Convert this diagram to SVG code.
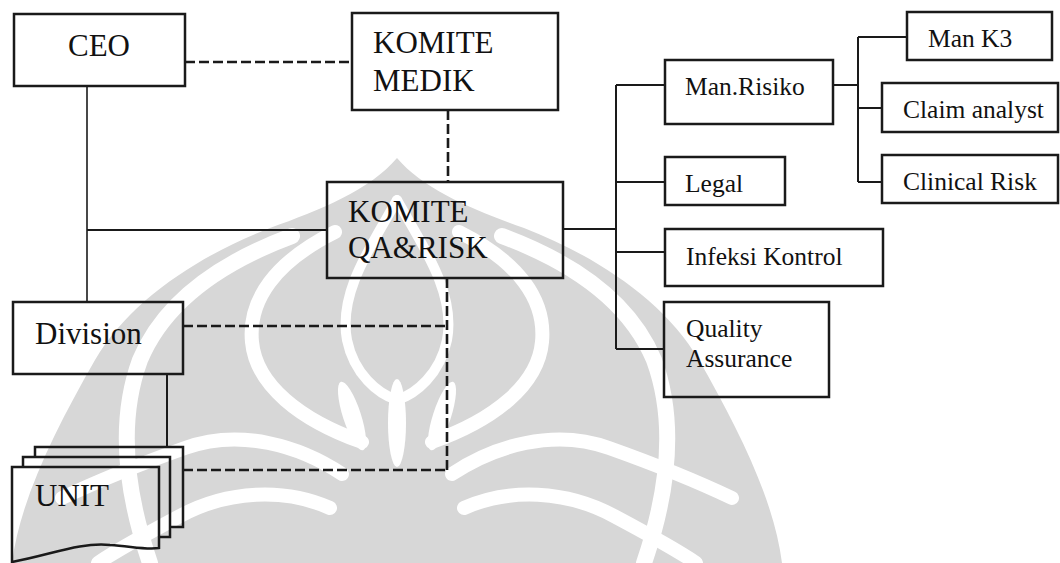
<svg xmlns="http://www.w3.org/2000/svg" xmlns:xlink="http://www.w3.org/1999/xlink" width="1060" height="563" viewBox="0 0 1060 563">
  <style>
    .box { fill: none; stroke: #1a1a1a; stroke-width: 2.5; }
    .sheet { fill: none; stroke: #1a1a1a; stroke-width: 2.5; }
    .line { fill: none; stroke: #1a1a1a; stroke-width: 2; }
    .thin { fill: none; stroke: #1a1a1a; stroke-width: 1.6; }
    .dash { fill: none; stroke: #1a1a1a; stroke-width: 2.6; stroke-dasharray: 10 4; }
    .big { font-family: "Liberation Serif", "Times New Roman", serif; font-size: 31px; fill: #111; }
    .small { font-family: "Liberation Serif", "Times New Roman", serif; font-size: 25.5px; fill: #111; }
    .wm { fill: #d7d7d7; }
    .wm-cut { fill: none; stroke: #fff; stroke-linecap: round; }
  </style>

  <rect width="1060" height="563" fill="#fff"/>

  <!-- background emblem -->
  <g id="emblem">
    <path class="wm" d="M397,158 C424,190 474,210 524,228 C594,255 664,300 699,360 C739,430 774,500 782,563 L12,563 C20,500 55,430 95,360 C130,300 200,255 270,228 C320,210 370,190 397,158 Z"/>
    <g id="emblem-half">
      <path class="wm-cut" stroke-width="16" d="M292,236 C222,262 165,300 140,360 C118,420 125,490 150,563"/>
      <path class="wm-cut" stroke-width="14" d="M335,232 C275,262 248,300 252,342 C256,385 300,420 362,442"/>
      <path class="wm-cut" stroke-width="10" d="M397,200 C372,245 338,292 347,340 C354,374 378,394 397,400"/>
      <ellipse cx="352" cy="416" rx="9" ry="36" fill="#fff" transform="rotate(-18 352 416)"/>
      <path class="wm-cut" stroke-width="14" d="M342,474 C300,446 240,428 185,448 C140,464 100,480 62,498"/>
      <path class="wm-cut" stroke-width="14" d="M330,508 C285,488 228,490 180,516 C150,532 120,548 98,563"/>
    </g>
    <use xlink:href="#emblem-half" transform="translate(794,0) scale(-1,1)"/>
    <ellipse cx="397" cy="423" rx="9" ry="44" fill="#fff"/>
  </g>

  <!-- connectors -->
  <g id="connectors">
    <line class="thin" x1="87" y1="86" x2="87" y2="302"/>
    <line class="line" x1="87" y1="230" x2="327" y2="230"/>
    <line class="line" x1="167" y1="374" x2="167" y2="447"/>
    <line class="dash" x1="185" y1="62" x2="352" y2="62"/>
    <line class="dash" x1="448" y1="110" x2="448" y2="182"/>
    <line class="dash" x1="447" y1="278" x2="447" y2="470"/>
    <line class="dash" x1="183" y1="326" x2="447" y2="326"/>
    <line class="dash" x1="183" y1="470" x2="447" y2="470"/>
    <line class="line" x1="563" y1="229" x2="616" y2="229"/>
    <line class="line" x1="616" y1="85" x2="616" y2="349"/>
    <line class="line" x1="616" y1="85" x2="665" y2="85"/>
    <line class="line" x1="616" y1="182" x2="665" y2="182"/>
    <line class="line" x1="616" y1="252" x2="665" y2="252"/>
    <line class="line" x1="616" y1="349" x2="664" y2="349"/>
    <line class="line" x1="833" y1="85" x2="858" y2="85"/>
    <line class="line" x1="858" y1="37" x2="858" y2="182"/>
    <line class="line" x1="858" y1="37" x2="907" y2="37"/>
    <line class="line" x1="858" y1="108" x2="882" y2="108"/>
    <line class="line" x1="858" y1="182" x2="882" y2="182"/>
  </g>

  <g id="ceo">
    <rect class="box" x="14" y="14" width="171" height="72"/>
    <text class="big" x="99" y="56" text-anchor="middle">CEO</text>
  </g>

  <g id="komite-medik">
    <rect class="box" x="352" y="13" width="206" height="97"/>
    <text class="big" x="373" y="53">KOMITE</text>
    <text class="big" x="373" y="91">MEDIK</text>
  </g>

  <g id="komite-qa-risk">
    <rect class="box" x="327" y="182" width="236" height="96"/>
    <text class="big" x="348" y="222">KOMITE</text>
    <text class="big" x="348" y="258">QA&amp;RISK</text>
  </g>

  <g id="division">
    <rect class="box" x="13" y="302" width="170" height="72"/>
    <text class="big" x="35" y="344">Division</text>
  </g>

  <g id="unit">
    <!-- stacked pages: back, middle, front -->
    <path class="sheet" d="M35,457 V447 H183 V527 H170"/>
    <path class="sheet" d="M23,467 V457 H170 V537 H159"/>
    <path class="sheet" d="M12,467 H159 V548 C145,550 130,546 110,545 C80,542 50,555 12,562 Z"/>
    <text class="big" x="35" y="506">UNIT</text>
  </g>

  <g id="man-risiko">
    <rect class="box" x="665" y="60" width="168" height="64"/>
    <text class="small" x="685" y="95">Man.Risiko</text>
  </g>

  <g id="legal">
    <rect class="box" x="665" y="157" width="120" height="48"/>
    <text class="small" x="685" y="192">Legal</text>
  </g>

  <g id="infeksi-kontrol">
    <rect class="box" x="665" y="229" width="218" height="57"/>
    <text class="small" x="686" y="265">Infeksi Kontrol</text>
  </g>

  <g id="quality-assurance">
    <rect class="box" x="664" y="302" width="165" height="95"/>
    <text class="small" x="686" y="337">Quality</text>
    <text class="small" x="686" y="367">Assurance</text>
  </g>

  <g id="man-k3">
    <rect class="box" x="907" y="12" width="145" height="48"/>
    <text class="small" x="928" y="47">Man K3</text>
  </g>

  <g id="claim-analyst">
    <rect class="box" x="882" y="83" width="176" height="49"/>
    <text class="small" x="903" y="118">Claim analyst</text>
  </g>

  <g id="clinical-risk">
    <rect class="box" x="882" y="155" width="176" height="48"/>
    <text class="small" x="903" y="190">Clinical Risk</text>
  </g>
</svg>
